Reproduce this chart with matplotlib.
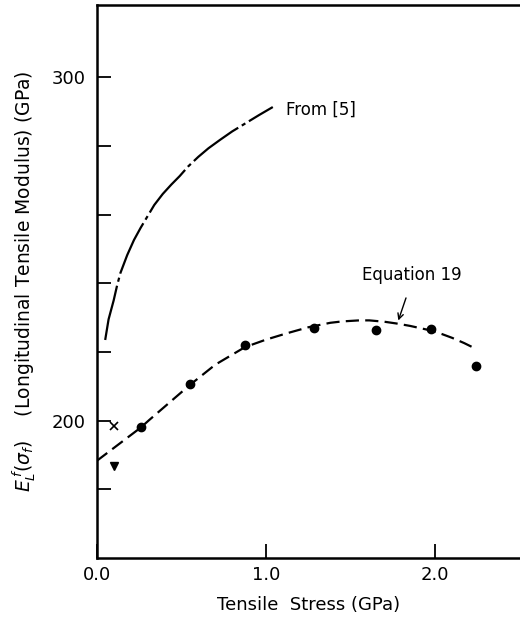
import matplotlib
matplotlib.use("Agg")
import matplotlib.pyplot as plt
from matplotlib.ticker import FixedLocator

plt.rcParams['font.family'] = 'DejaVu Sans'
plt.rcParams['lines.scale_dashes'] = False
plt.rcParams['mathtext.fontset'] = 'dejavusans'

# curve from ref. [5]
x_ref5 = [0.05, 0.07, 0.10, 0.12, 0.14, 0.18, 0.22, 0.26, 0.30, 0.34, 0.39,
          0.44, 0.49, 0.54, 0.60, 0.66, 0.73, 0.80, 0.88, 0.96, 1.04]
y_ref5 = [223.5, 229.5, 235.0, 239.3, 243.0, 248.2, 252.6, 256.2, 259.5, 262.8, 266.0,
          268.7, 271.2, 274.0, 276.8, 279.3, 281.8, 284.2, 286.6, 289.0, 291.3]

# Equation 19
x_eq = [0.0, 0.26, 0.31, 0.55, 0.70, 0.875, 1.0, 1.12, 1.25, 1.38, 1.45, 1.55,
        1.61, 1.70, 1.77, 1.85, 1.97, 2.04, 2.10, 2.17, 2.24]
y_eq = [188.3, 198.0, 200.2, 210.4, 216.3, 221.4, 223.6, 225.4, 227.2, 228.5, 228.9, 229.2,
        229.2, 228.8, 228.3, 227.6, 226.3, 225.2, 224.1, 222.6, 220.9]

# measured points
x_dot = [0.26, 0.55, 0.875, 1.284, 1.648, 1.976, 2.238]
y_dot = [198.2, 210.8, 222.0, 227.1, 226.5, 226.7, 215.9]
x_tri = [0.104]
y_tri = [186.9]
x_cross = [0.104]
y_cross = [198.5]

fig = plt.figure(figsize=(5.2, 6.25), dpi=100)
ax = fig.add_axes([0.186, 0.107, 0.814, 0.885])

ax.plot(x_ref5, y_ref5, color='black', lw=1.6, dashes=(40, 3, 3, 3))
ax.plot(x_eq, y_eq, color='black', lw=1.6, dashes=(9.5, 4.5))
ax.plot(x_dot, y_dot, 'o', color='black', ms=6)
ax.plot(x_tri, y_tri, 'v', color='black', ms=6)
ax.plot(x_cross, y_cross, 'x', color='black', ms=6, mew=1.2)

ax.text(1.12, 290.5, 'From [5]', fontsize=12, va='center', ha='left')
ax.text(1.86, 242.3, 'Equation 19', fontsize=12, va='center', ha='center')
ax.annotate('', xy=(1.776, 228.4), xytext=(1.832, 236.5),
            arrowprops=dict(arrowstyle='->', lw=1.0, color='black'))

ax.set_xlim(0, 2.5)
ax.set_ylim(160, 321)
ax.xaxis.set_major_locator(FixedLocator([0.0, 1.0, 2.0]))
ax.set_xticklabels(['0.0', '1.0', '2.0'])
ax.yaxis.set_major_locator(FixedLocator([200, 300]))
ax.yaxis.set_minor_locator(FixedLocator([180, 220, 240, 260, 280]))
ax.tick_params(axis='both', which='both', direction='in', length=10, width=1.3,
               labelsize=13, pad=8)
ax.tick_params(axis='x', pad=6)

ax.spines['right'].set_visible(False)
for s in ['left', 'bottom', 'top']:
    ax.spines[s].set_linewidth(1.8)

ax.set_xlabel('Tensile  Stress (GPa)', fontsize=13, labelpad=8)
ax.set_ylabel(r'$E^{\,f}_{L}(\sigma_f)$    (Longitudinal Tensile Modulus) (GPa)',
              fontsize=13.5, labelpad=10)

fig.savefig('out.png', dpi=100)
